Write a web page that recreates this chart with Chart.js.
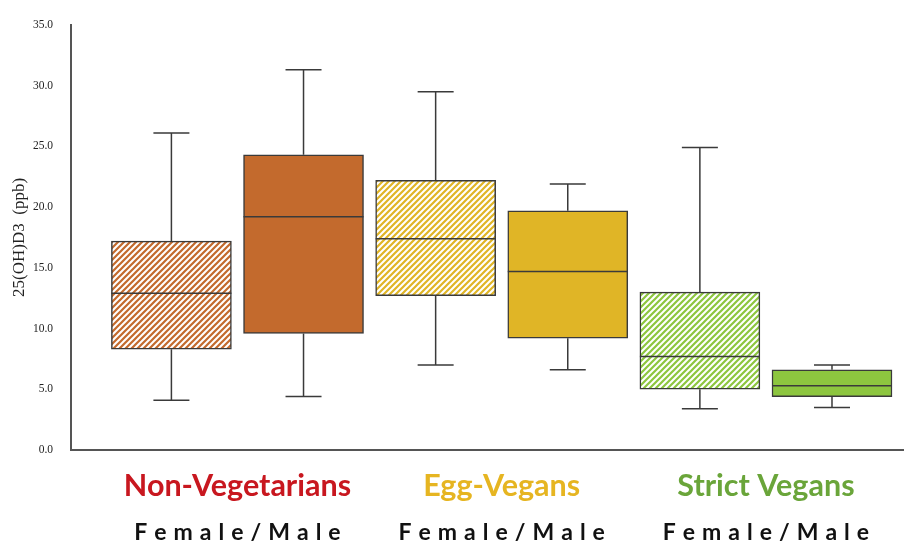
<!DOCTYPE html>
<html>
<head>
<meta charset="utf-8">
<script src="https://cdn.jsdelivr.net/npm/chart.js@4.4.1/dist/chart.umd.min.js"></script>
<style>
html,body{margin:0;padding:0;background:#fff;}
#wrap{width:904px;height:545px;}
</style>
</head>
<body>
<div id="wrap"><canvas id="c" width="904" height="545"></canvas></div>
<script>
// ---- data ----
const boxes = ['NV Female','NV Male','EV Female','EV Male','SV Female','SV Male'];
const whiskerLow  = [4.1, 4.4, 7.0, 6.6, 3.4, 3.5];
const q1Values    = [8.3, 9.6, 12.7, 9.2, 5.0, 4.4];
const medianValues= [12.9, 19.2, 17.4, 14.7, 7.7, 5.3];
const q3Values    = [17.2, 24.3, 22.2, 19.7, 13.0, 6.6];
const whiskerHigh = [26.1, 31.3, 29.5, 21.9, 24.9, 7.0];
const groups = ['Non-Vegetarians','Egg-Vegans','Strict Vegans'];
const subLabel = 'Female/Male';
const yTicks = [0,5,10,15,20,25,30,35];

// ---- styles ----
const groupColors = ['#C36A2D','#E0B526','#8DC63F'];
const groupTextColors = ['#C8171F','#E6B521','#6AA53A'];

function hatch(color){
  const c = document.createElement('canvas');
  c.width = 6; c.height = 6;
  const g = c.getContext('2d');
  g.fillStyle = '#fff'; g.fillRect(0,0,6,6);
  g.strokeStyle = color; g.lineWidth = 2.2;
  g.beginPath();
  g.moveTo(-3,3); g.lineTo(3,-3);
  g.moveTo(0,6); g.lineTo(6,0);
  g.moveTo(3,9); g.lineTo(9,3);
  g.stroke();
  return g.createPattern(c,'repeat');
}
const fills = [];
boxes.forEach((b,i)=>{
  const col = groupColors[Math.floor(i/2)];
  fills.push(i%2===0 ? hatch(col) : col);
});

const boxPlugin = {
  id:'boxExtras',
  afterDatasetsDraw(chart){
    const ctx = chart.ctx, ys = chart.scales.y;
    const meta = chart.getDatasetMeta(0);
    ctx.save();
    ctx.strokeStyle = '#3a3a3a';
    ctx.lineWidth = 1.5;
    meta.data.forEach((bar,i)=>{
      const x = bar.x, w = bar.width;
      const yl = ys.getPixelForValue(whiskerLow[i]);
      const yh = ys.getPixelForValue(whiskerHigh[i]);
      const y1 = ys.getPixelForValue(q1Values[i]);
      const y3 = ys.getPixelForValue(q3Values[i]);
      const ym = ys.getPixelForValue(medianValues[i]);
      const cap = w*0.3;
      ctx.beginPath();
      ctx.moveTo(x,y3); ctx.lineTo(x,yh);
      ctx.moveTo(x-cap/2,yh); ctx.lineTo(x+cap/2,yh);
      ctx.moveTo(x,y1); ctx.lineTo(x,yl);
      ctx.moveTo(x-cap/2,yl); ctx.lineTo(x+cap/2,yl);
      ctx.moveTo(x-w/2,ym); ctx.lineTo(x+w/2,ym);
      ctx.stroke();
    });
    ctx.restore();
  },
  afterDraw(chart){
    const ctx = chart.ctx, xs = chart.scales.x;
    ctx.save();
    ctx.textAlign = 'center';
    ctx.textBaseline = 'alphabetic';
    groups.forEach((g,k)=>{
      const cx = xs.getPixelForValue(2*k+0.5);
      ctx.font = 'bold 30.5px Lato';
      ctx.fillStyle = groupTextColors[k];
      ctx.fillText(g, cx, 496);
      // spaced sub label
      ctx.font = 'bold 23px Lato';
      ctx.fillStyle = '#111';
      const sp = 7;
      const chars = subLabel.split('');
      const widths = chars.map(ch=>ctx.measureText(ch).width);
      const total = widths.reduce((a,b)=>a+b,0) + sp*(chars.length-1);
      let px = cx - total/2;
      ctx.textAlign = 'left';
      chars.forEach((ch,j)=>{ ctx.fillText(ch, px, 540); px += widths[j]+sp; });
      ctx.textAlign = 'center';
    });
    ctx.restore();
  }
};

new Chart(document.getElementById('c'), {
  type:'bar',
  data:{
    datasets:[{
      data: boxes.map((b,i)=>({x:i, y:[q1Values[i], q3Values[i]]})),
      backgroundColor: fills,
      borderColor:'#3a3a3a',
      borderWidth:1.5,
      borderSkipped:false,
      barThickness:120
    }]
  },
  plugins:[boxPlugin],
  options:{
    responsive:false,
    animation:false,
    events:[],
    layout:{padding:{top:19,right:0,bottom:95,left:0}},
    plugins:{legend:{display:false},tooltip:{enabled:false}},
    scales:{
      x:{
        type:'linear', min:-0.76, max:5.545, offset:false,
        grid:{display:false, drawTicks:false},
        ticks:{display:false},
        border:{display:true,color:'#555',width:2},
        afterFit(s){ s.height = 0; }
      },
      y:{
        min:0, max:35,
        afterBuildTicks(s){ s.ticks = yTicks.map(v=>({value:v})); },
        grid:{display:false, drawTicks:false},
        border:{display:true,color:'#555',width:2},
        ticks:{
          padding:18, color:'#222',
          font:{family:'Liberation Serif', size:11.5},
          callback:(v)=>Number(v).toFixed(1)
        },
        title:{display:true, text:'25(OH)D3  (ppb)', color:'#222',
          font:{family:'Liberation Serif', size:17}, padding:{top:9,bottom:4}},
        afterFit(s){ s.width = 71; }
      }
    }
  }
});
</script>
</body>
</html>
